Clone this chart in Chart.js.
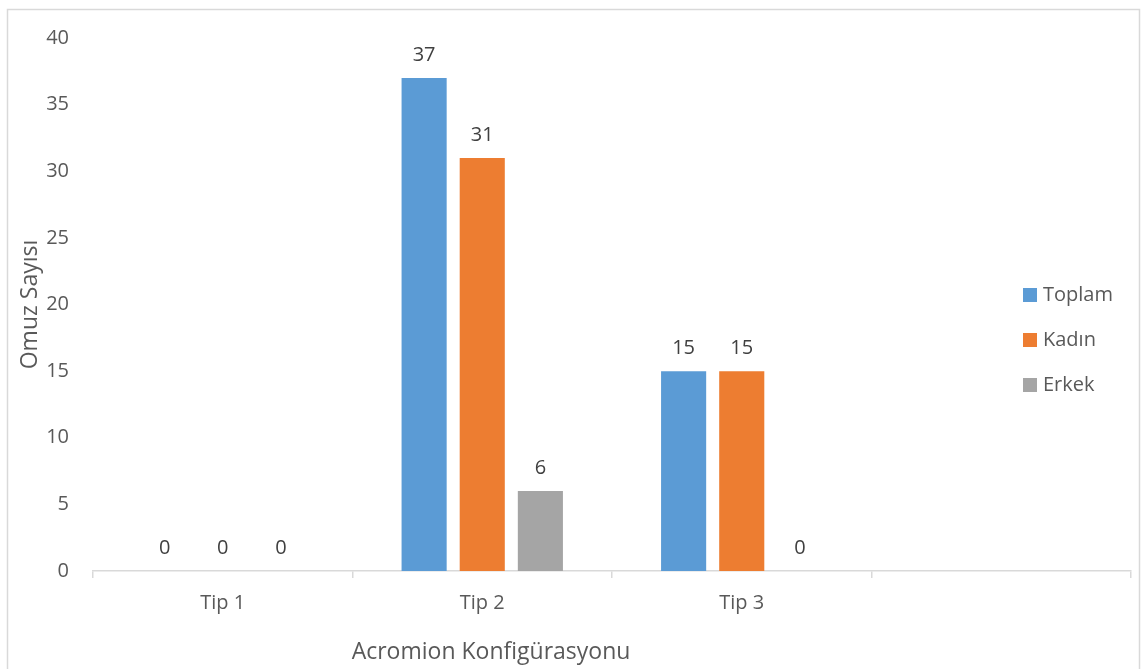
<!DOCTYPE html>
<html>
<head>
<meta charset="utf-8">
<script src="https://cdn.jsdelivr.net/npm/chart.js@4/dist/chart.umd.min.js"></script>
<style>
  html, body { margin: 0; padding: 0; background: #fff; }
  #wrap { width: 1142px; height: 669px; position: relative; }
</style>
</head>
<body>
<div id="wrap"><canvas id="acromionChart" width="1142" height="669"></canvas></div>
<script>
// categories (the 4th slot is empty in the original)
const categories = ['Tip 1', 'Tip 2', 'Tip 3', ''];
const toplam = [0, 37, 15, null];
const kadin = [0, 31, 15, null];
const erkek = [0, 6, 0, null];
const seriesNames = ['Toplam', 'Kadın', 'Erkek'];
const yTicks = [0, 5, 10, 15, 20, 25, 30, 35, 40];

const FONT = "'Open Sans', 'Noto Sans', sans-serif";
const TEXT = '#595959';
const LINE = '#d9d9d9';
const colors = ['#5B9BD5', '#ED7D31', '#A5A5A5'];

// frame around the whole chart
const framePlugin = {
    id: 'frame',
    beforeDraw(chart) {
        const c = chart.ctx;
        c.save();
        c.strokeStyle = LINE;
        c.lineWidth = 1.5;
        c.strokeRect(7.5, 9.5, 1132, 680);
        c.restore();
    }
};

// value labels above bars
const valueLabels = {
    id: 'valueLabels',
    afterDatasetsDraw(chart) {
        const c = chart.ctx;
        c.save();
        c.font = '20px ' + FONT;
        c.fillStyle = '#404040';
        c.textAlign = 'center';
        c.textBaseline = 'bottom';
        chart.data.datasets.forEach((ds, i) => {
            chart.getDatasetMeta(i).data.forEach((bar, j) => {
                const v = ds.data[j];
                if (v === null || v === undefined) return;
                c.fillText(String(v), bar.x, bar.y - 13);
            });
        });
        c.restore();
    }
};

// legend drawn inside the plot, right side, plus x axis title
const sideLegend = {
    id: 'sideLegend',
    afterDraw(chart) {
        const c = chart.ctx;
        c.save();
        c.font = '20px ' + FONT;
        c.textBaseline = 'middle';
        c.textAlign = 'left';
        chart.data.datasets.forEach((ds, i) => {
            const y = 295 + i * 45;
            c.fillStyle = ds.backgroundColor;
            c.fillRect(1023, y - 7, 14, 14);
            c.fillStyle = TEXT;
            c.fillText(ds.label, 1043, y);
        });
        c.font = '23px ' + FONT;
        c.textAlign = 'center';
        c.fillText('Acromion Konfigürasyonu', 491, 652);
        c.restore();
    }
};

const ctx = document.getElementById('acromionChart').getContext('2d');
new Chart(ctx, {
    type: 'bar',
    data: {
        labels: categories,
        datasets: [
            { label: seriesNames[0], data: toplam, backgroundColor: colors[0] },
            { label: seriesNames[1], data: kadin, backgroundColor: colors[1] },
            { label: seriesNames[2], data: erkek, backgroundColor: colors[2] }
        ]
    },
    options: {
        responsive: false,
        animation: false,
        layout: { padding: { top: 38, right: 11, left: 0, bottom: 0 } },
        categoryPercentage: 0.672,
        barPercentage: 0.776,
        plugins: {
            legend: { display: false },
            tooltip: { enabled: false }
        },
        scales: {
            x: {
                grid: {
                    offset: true,
                    drawOnChartArea: false,
                    drawTicks: true,
                    tickLength: 7,
                    color: LINE,
                    lineWidth: 1.5
                },
                border: { display: true, color: LINE, width: 1.5 },
                ticks: {
                    color: TEXT,
                    font: { family: FONT, size: 20 },
                    padding: 13
                },
                afterFit(scale) { scale.height = 98; }
            },
            y: {
                min: 0,
                max: 40,
                afterBuildTicks(scale) { scale.ticks = yTicks.map(v => ({ value: v })); },
                grid: { display: false },
                border: { display: false },
                ticks: {
                    color: TEXT,
                    font: { family: FONT, size: 20 },
                    padding: 16
                },
                title: {
                    display: true,
                    text: 'Omuz Sayısı',
                    color: TEXT,
                    font: { family: FONT, size: 23 },
                    padding: { top: 17, bottom: 0 }
                },
                afterFit(scale) { scale.width = 93; }
            }
        }
    },
    plugins: [framePlugin, valueLabels, sideLegend]
});
</script>
</body>
</html>
